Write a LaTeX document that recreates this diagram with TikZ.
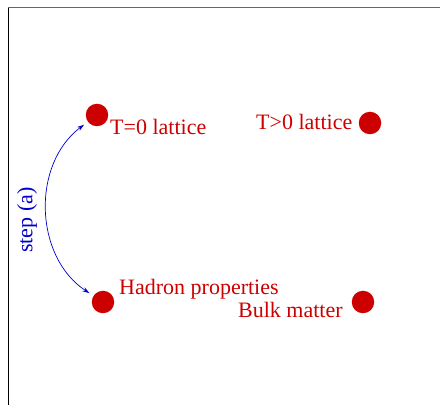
\documentclass[tikz,border=0pt]{standalone}
\usepackage{fontspec}
\setmainfont{Liberation Serif}
\usetikzlibrary{arrows.meta}
\definecolor{dotred}{RGB}{204,0,0}
\definecolor{arrblue}{RGB}{0,0,204}
\begin{document}
\begin{tikzpicture}[x=1pt,y=1pt,
  dot/.style={circle,fill=dotred,inner sep=0pt,minimum size=22.5pt,outer sep=5pt},
  lbl/.style={inner sep=0pt,anchor=base west,text=dotred,font=\fontsize{22}{26}\selectfont},
  steplbl/.style={inner sep=0pt,rotate=90,text=arrblue,font=\fontsize{22}{26}\selectfont}]
\useasboundingbox (0,0) rectangle (440,405);
\coordinate (tl) at (8,397);
\coordinate (tr) at (440,397);
\coordinate (bl) at (8,0);
\draw[line width=1pt,black!60] (tl) -- (tr);
\draw[line width=1pt,black] (tl) -- (bl);
\node[dot] (a) at (97,290) {};
\node[dot] (b) at (370,282) {};
\node[dot] (c) at (103,103) {};
\node[dot] (d) at (363,103) {};
\node[lbl] (la) at (110,270) {T=0 lattice};
\node[lbl] (lb) at (256,275) {T>0 lattice};
\node[lbl] (lc) at (119,110) {Hadron properties};
\node[lbl] (ld) at (238,87) {Bulk matter};
\node[steplbl] (s) at (27,185) {step (a)};
\draw[arrblue,line width=0.7pt,{Stealth[length=7pt,width=4.5pt]}-{Stealth[length=7pt,width=4.5pt]}] (a) to[bend right=55] (c);
\end{tikzpicture}
\end{document}
